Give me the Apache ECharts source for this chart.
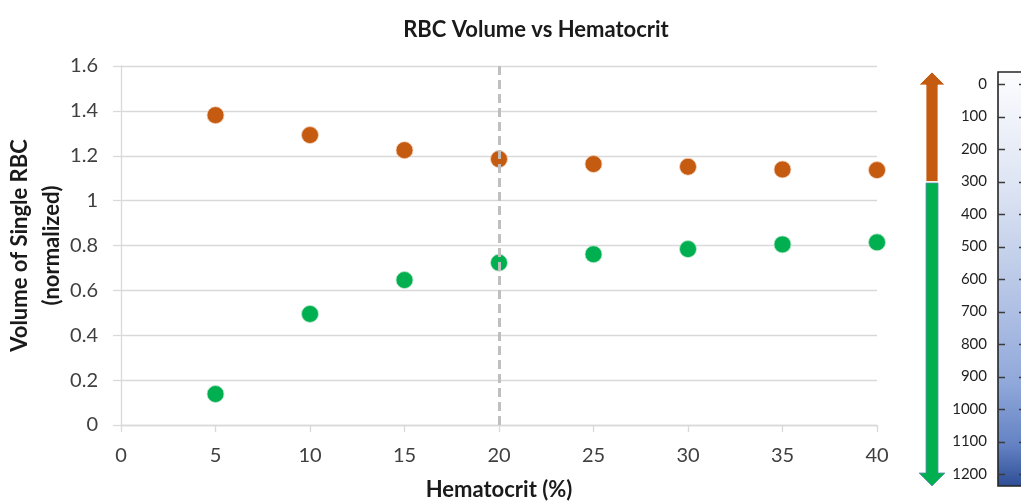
<!DOCTYPE html>
<html>
<head>
<meta charset="utf-8">
<script src="https://cdn.jsdelivr.net/npm/echarts@6/dist/echarts.min.js"></script>
<style>html,body{margin:0;padding:0;background:#fff}#c{width:1021px;height:503px}</style>
</head>
<body>
<div id="c"></div>
<script>
const hematocrit = [5, 10, 15, 20, 25, 30, 35, 40];
const volumeAbove = [1.381, 1.292, 1.225, 1.185, 1.163, 1.151, 1.139, 1.136];
const volumeBelow = [0.138, 0.495, 0.646, 0.723, 0.761, 0.784, 0.805, 0.814];
const thresholdHematocrit = 20;
const scaleMin = 0;
const scaleMax = 1200;
const scaleStep = 100;
const arrowSplit = 300;

const FONT = 'Lato, "Open Sans", sans-serif';
const ORANGE = '#c55a11';
const GREEN = '#00b050';
const GRID = '#d9d9d9';

const chart = echarts.init(document.getElementById('c'), null, {renderer: 'canvas'});

function arrowItem(params, api) {
  const kind = api.value(2);
  const cs = params.coordSys;
  const cx = cs.x - 66;
  const yTop = api.coord([0, scaleMin])[1];
  const yBot = api.coord([0, scaleMax])[1];
  const ySplit = api.coord([0, arrowSplit])[1];
  if (kind === 0) {
    const children = [{
      type: 'rect',
      shape: {x: cs.x, y: yTop - 12, width: 80, height: (yBot - yTop) + 24},
      style: {
        fill: new echarts.graphic.LinearGradient(0, 0, 0, 1, [
          {offset: 0, color: '#fdfdff'},
          {offset: 0.3, color: '#dae2f2'},
          {offset: 0.55, color: '#b3c3e5'},
          {offset: 0.75, color: '#90a8da'},
          {offset: 0.9, color: '#6482c3'},
          {offset: 1, color: '#2d4d95'}
        ]),
        stroke: '#262626', lineWidth: 1.6
      }
    }];
    for (let v = scaleMin; v <= scaleMax; v += scaleStep) {
      const y = Math.round(api.coord([0, v])[1]) + 0.5;
      children.push({type: 'line', shape: {x1: cs.x, y1: y, x2: cs.x + 7, y2: y},
        style: {stroke: '#3a3a3a', lineWidth: 1.5}});
      children.push({type: 'line', shape: {x1: cs.x + cs.width, y1: y, x2: cs.x + cs.width + 4, y2: y},
        style: {stroke: '#3a3a3a', lineWidth: 1.3}});
    }
    return {type: 'group', children: children};
  }
  const sw = 6, hw = 13, hh = 13;
  if (kind === 1) {
    const tip = yTop - 12;
    return {
      type: 'polygon',
      shape: {points: [
        [cx - sw, ySplit], [cx - sw, tip + hh], [cx - hw, tip + hh], [cx, tip],
        [cx + hw, tip + hh], [cx + sw, tip + hh], [cx + sw, ySplit]
      ]},
      style: {fill: ORANGE, stroke: '#ffffff', lineWidth: 0.8}
    };
  }
  const tip = yBot + 12;
  return {
    type: 'polygon',
    shape: {points: [
      [cx - sw, ySplit + 1.5], [cx - sw, tip - hh], [cx - hw, tip - hh], [cx, tip],
      [cx + hw, tip - hh], [cx + sw, tip - hh], [cx + sw, ySplit + 1.5]
    ]},
    style: {fill: GREEN, stroke: '#5b8fb0', lineWidth: 0.8}
  };
}

const option = {
  backgroundColor: '#ffffff',
  animation: false,
  textStyle: {fontFamily: FONT},
  title: {
    text: 'RBC Volume vs Hematocrit',
    left: 531, top: 14, textAlign: 'center',
    textStyle: {fontFamily: FONT, fontSize: 22, fontWeight: 'bold', color: '#1a1a1a'}
  },
  grid: [
    {left: 121, right: 144, top: 66, bottom: 78, containLabel: false, outerBoundsMode: 'none'},
    {left: 998, width: 21, top: 84, height: 390, containLabel: false, outerBoundsMode: 'none'}
  ],
  xAxis: [
    {
      gridIndex: 0, type: 'value', min: 0, max: 40, interval: 5,
      name: 'Hematocrit (%)', nameLocation: 'middle', nameGap: 54, nameMoveOverlap: false,
      nameTextStyle: {fontFamily: FONT, fontSize: 22, fontWeight: 'bold', color: '#1a1a1a'},
      axisLine: {show: true, lineStyle: {color: GRID, width: 1.3}},
      axisTick: {show: true, length: 7, lineStyle: {color: GRID, width: 1.3}},
      axisLabel: {fontFamily: FONT, fontSize: 20, color: '#404040', margin: 21},
      splitLine: {show: false}
    },
    {gridIndex: 1, type: 'value', min: 0, max: 1, show: false}
  ],
  yAxis: [
    {
      gridIndex: 0, type: 'value', min: 0, max: 1.6, interval: 0.2,
      name: 'Volume of Single RBC\n(normalized)', nameLocation: 'middle', nameGap: 53,
      nameMoveOverlap: false,
      nameRotate: 90,
      nameTextStyle: {fontFamily: FONT, fontSize: 22, fontWeight: 'bold', color: '#1a1a1a', lineHeight: 32},
      axisLine: {show: true, lineStyle: {color: GRID, width: 1.3}},
      axisTick: {show: true, length: 8, lineStyle: {color: GRID, width: 1.3}},
      axisLabel: {fontFamily: FONT, fontSize: 20, color: '#404040', margin: 23},
      splitLine: {show: true, lineStyle: {color: GRID, width: 1.3}}
    },
    {
      gridIndex: 1, type: 'value', min: scaleMin, max: scaleMax, interval: scaleStep,
      inverse: true, position: 'left',
      axisLine: {show: false},
      axisTick: {show: false},
      axisLabel: {fontFamily: FONT, fontSize: 15, color: '#1f1f1f', margin: 11, formatter: v => String(v)},
      splitLine: {show: false}
    }
  ],
  series: [
    {
      type: 'scatter', xAxisIndex: 0, yAxisIndex: 0, symbol: 'circle', symbolSize: 17,
      itemStyle: {color: ORANGE, borderColor: '#f4d3bd', borderWidth: 0.8, opacity: 1},
      data: hematocrit.map((x, i) => [x, volumeAbove[i]]),
      z: 3
    },
    {
      type: 'scatter', xAxisIndex: 0, yAxisIndex: 0, symbol: 'circle', symbolSize: 17,
      itemStyle: {color: GREEN, borderColor: '#bfe9cf', borderWidth: 0.8, opacity: 1},
      data: hematocrit.map((x, i) => [x, volumeBelow[i]]),
      z: 3,
      markLine: {
        silent: true, symbol: 'none', z: 5,
        label: {show: false},
        lineStyle: {color: '#bfbfbf', type: [9, 5], width: 3},
        data: [{xAxis: thresholdHematocrit}]
      }
    },
    {
      type: 'custom', xAxisIndex: 1, yAxisIndex: 1, clip: false,
      renderItem: arrowItem,
      encode: {x: 0, y: 1},
      data: [[0, scaleMin, 0], [0, arrowSplit, 1], [0, scaleMax, 2]],
      z: 1
    }
  ]
};
chart.setOption(option);
</script>
</body>
</html>
